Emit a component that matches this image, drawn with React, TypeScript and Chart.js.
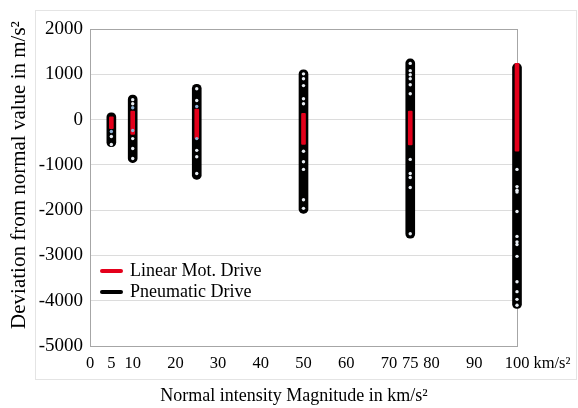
import React, { useEffect, useRef } from "react";
import { Chart, registerables } from "chart.js";

Chart.register(...registerables);

const categories = [5, 10, 25, 50, 75, 100];
const pneumaticMin = [-600, -950, -1320, -2070, -2620, -4170];
const pneumaticMax = [150, 540, 780, 1100, 1340, 1240];
const linearMin = [-200, -330, -420, -550, -560, -700];
const linearMax = [60, 190, 230, 140, 190, 1240];

const pneumaticDots5 = [-375, -550];
const pneumaticDots10 = [440, 350, -420, -640, -860];
const pneumaticDots25 = [680, 420, -680, -820, -1190];
const pneumaticDots50 = [1010, 900, 750, 460, 350, -700, -930, -1100, -1770, -1960];
const pneumaticDots75 = [1240, 1080, 990, 900, 770, 570, -880, -1190, -1280, -1500, -2520];
const pneumaticDots100 = [-1100, -1480, -1560, -1600, -2030, -2580, -2700, -2760, -3020, -3580, -3800, -3970, -4100];

const linearDots5 = [-265];
const linearDots10 = [260, -240];
const linearDots25 = [290, -420];

const xTickValues = [0, 5, 10, 20, 30, 40, 50, 60, 70, 75, 80, 90, 100];
const yTickMin = -5000;
const yTickMax = 2000;
const yTickStep = 1000;

const seriesNames = ["Linear Mot. Drive", "Pneumatic Drive"];
const xTitle = "Normal intensity Magnitude in km/s²";
const yTitle = "Deviation from normal value in m/s²";
const xUnit = "km/s²";

const RED = "#e4001b";
const BLACK = "#000000";
const FONT = "'Liberation Serif', 'Times New Roman', serif";

const pneumaticDotGroups = [pneumaticDots5, pneumaticDots10, pneumaticDots25, pneumaticDots50, pneumaticDots75, pneumaticDots100];
const linearDotGroups = [linearDots5, linearDots10, linearDots25];

const decorPlugin = {
  id: "decor",
  beforeDraw(chart: any) {
    const ctx = chart.ctx;
    ctx.save();
    ctx.fillStyle = "#ffffff";
    ctx.fillRect(0, 0, chart.width, chart.height);
    ctx.strokeStyle = "#e4e4e4";
    ctx.lineWidth = 1;
    ctx.strokeRect(35.5, 10.5, 541, 369);
    ctx.restore();
  },
  beforeDatasetsDraw(chart: any) {
    const ctx = chart.ctx;
    const a = chart.chartArea;
    ctx.save();
    ctx.strokeStyle = "#a6a6a6";
    ctx.lineWidth = 1;
    ctx.beginPath();
    ctx.moveTo(Math.round(a.right) + 0.5, a.top);
    ctx.lineTo(Math.round(a.right) + 0.5, a.bottom);
    ctx.stroke();
    ctx.restore();
  },
  afterDraw(chart: any) {
    const ctx = chart.ctx;
    const area = chart.chartArea;
    const xs = chart.scales.x;
    ctx.save();
    ctx.fillStyle = "#000";
    ctx.font = `16.5px ${FONT}`;
    ctx.textAlign = "left";
    ctx.textBaseline = "top";
    const lastX = xs.getPixelForValue(100);
    const w100 = ctx.measureText("100").width;
    ctx.fillText(xUnit, lastX + w100 / 2 + 4, area.bottom + 9);
    ctx.font = `18px ${FONT}`;
    ctx.textAlign = "center";
    ctx.textBaseline = "middle";
    ctx.fillText(xTitle, 294, 396);
    ctx.save();
    ctx.translate(19, 175);
    ctx.rotate(-Math.PI / 2);
    ctx.font = `21px ${FONT}`;
    ctx.fillText(yTitle, 0, 0);
    ctx.restore();
    const items = [
      { label: seriesNames[0], color: RED, y: 271 },
      { label: seriesNames[1], color: BLACK, y: 292 },
    ];
    ctx.font = `18px ${FONT}`;
    ctx.textAlign = "left";
    ctx.textBaseline = "middle";
    for (const it of items) {
      ctx.strokeStyle = it.color;
      ctx.lineWidth = 4;
      ctx.lineCap = "round";
      ctx.beginPath();
      ctx.moveTo(102, it.y);
      ctx.lineTo(121, it.y);
      ctx.stroke();
      ctx.fillStyle = "#000";
      ctx.fillText(it.label, 130, it.y);
    }
    ctx.restore();
  },
};

export default function App() {
  const ref = useRef<HTMLCanvasElement | null>(null);

  useEffect(() => {
    if (!ref.current) return;
    const pDots: any[] = [];
    pneumaticDotGroups.forEach((g, i) => g.forEach((v) => pDots.push({ x: categories[i], y: v })));
    const lDots: any[] = [];
    linearDotGroups.forEach((g, i) => g.forEach((v) => lDots.push({ x: categories[i], y: v })));

    const chart = new Chart(ref.current, {
      type: "bar",
      data: {
        datasets: [
          {
            type: "scatter",
            label: "pdots",
            data: pDots,
            pointRadius: 1.7,
            pointBackgroundColor: "#e9eef4",
            pointBorderWidth: 0,
            clip: false,
            order: 0,
          } as any,
          {
            type: "scatter",
            label: "ldots",
            data: lDots,
            pointRadius: 1.7,
            pointBackgroundColor: "#8fb3d8",
            pointBorderWidth: 0,
            clip: false,
            order: 0,
          } as any,
          {
            label: seriesNames[0],
            data: categories.map((c, i) => ({ x: c, y: [linearMin[i], linearMax[i]] })),
            backgroundColor: RED,
            barThickness: 4,
            borderRadius: 1,
            borderSkipped: false,
            grouped: false,
            clip: false,
            order: 1,
          } as any,
          {
            label: seriesNames[1],
            data: categories.map((c, i) => ({ x: c, y: [pneumaticMin[i], pneumaticMax[i]] })),
            backgroundColor: BLACK,
            barThickness: 9,
            borderRadius: 4.5,
            borderSkipped: false,
            grouped: false,
            clip: false,
            order: 2,
          } as any,
        ],
      },
      options: {
        responsive: false,
        animation: false,
        layout: { padding: { top: 29, right: 61, left: 0, bottom: 0 } },
        plugins: {
          legend: { display: false },
          tooltip: { enabled: false },
        },
        scales: {
          x: {
            type: "linear",
            min: 0,
            max: 100,
            offset: false,
            afterFit: (s: any) => {
              s.height = 62;
            },
            afterBuildTicks: (s: any) => {
              s.ticks = xTickValues.map((v) => ({ value: v }));
            },
            ticks: {
              autoSkip: false,
              maxRotation: 0,
              padding: 8,
              color: "#000",
              font: { family: FONT, size: 16.5 },
              callback: (v: any) => String(v),
            },
            grid: { display: false, drawTicks: false },
            border: { display: true, color: "#a6a6a6" },
          },
          y: {
            type: "linear",
            min: yTickMin,
            max: yTickMax,
            afterFit: (s: any) => {
              s.width = 90;
            },
            ticks: {
              stepSize: yTickStep,
              padding: 7,
              color: "#000",
              font: { family: FONT, size: 19 },
              callback: (v: any) => String(v),
            },
            grid: {
              drawTicks: false,
              color: (c: any) => (c.tick && c.tick.value === yTickMax ? "#a6a6a6" : "#dcdcdc"),
            },
            border: { display: true, color: "#a6a6a6" },
          },
        },
      } as any,
      plugins: [decorPlugin],
    });
    return () => chart.destroy();
  }, []);

  return (
    <div style={{ position: "fixed", left: 0, top: 0, width: 578, height: 408 }}>
      <canvas ref={ref} width={578} height={408} />
    </div>
  );
}
